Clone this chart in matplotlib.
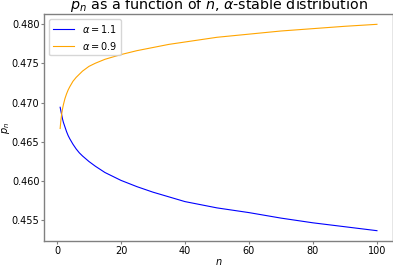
import matplotlib
matplotlib.use("Agg")
import matplotlib.pyplot as plt

n_blue = [1, 1.25, 1.5, 1.75, 2, 2.5, 3, 3.5, 4, 5, 6, 7, 8, 10, 12, 15, 20, 25, 30,
          35, 40, 50, 60, 70, 80, 90, 100]
p_blue = [0.4694, 0.4689, 0.4684, 0.4679, 0.4675, 0.4669, 0.4663, 0.4658, 0.4654,
          0.4647, 0.4641, 0.4636, 0.4632, 0.4625, 0.4619, 0.4611, 0.4601, 0.4593,
          0.4586, 0.4580, 0.4574, 0.4566, 0.4560, 0.4553, 0.4547, 0.4542, 0.4537]
n_orange = [1, 1.25, 1.5, 1.75, 2, 2.5, 3, 3.5, 4, 5, 6, 7, 8, 10, 12, 15, 20, 25, 30,
            35, 40, 50, 60, 70, 80, 90, 100]
p_orange = [0.4667, 0.4678, 0.4686, 0.4692, 0.4697, 0.4705, 0.4711, 0.4716, 0.4720,
            0.4727, 0.4732, 0.4736, 0.4740, 0.4746, 0.4750, 0.4755, 0.4761, 0.4766,
            0.4770, 0.4774, 0.4777, 0.4783, 0.4787, 0.4791, 0.4794, 0.4797, 0.47995]
labels = [r"$\alpha = 1.1$", r"$\alpha = 0.9$"]
title = r"$p_n$ as a function of $n$, $\alpha$-stable distribution"

fig = plt.figure(figsize=(3.93, 2.66), dpi=100)
ax = fig.add_axes([44.3 / 393, 1 - 241 / 266, (392.8 - 44.3) / 393, (241 - 14) / 266])
ax.plot(n_blue, p_blue, color="blue", lw=0.8, label=labels[0])
ax.plot(n_orange, p_orange, color="orange", lw=0.8, label=labels[1])
ax.set_xticks([0, 20, 40, 60, 80, 100])
ax.set_yticks([0.455, 0.460, 0.465, 0.470, 0.475, 0.480])
ax.tick_params(labelsize=7, length=2.5, width=0.8, color="#808080", pad=1)
for s in ax.spines.values():
    s.set_color("#808080")
    s.set_linewidth(1.0)
ax.set_title(title, fontsize=10.3, pad=0)
ax.set_xlabel(r"$n$", fontsize=7, labelpad=0.5)
ax.set_ylabel(r"$p_n$", fontsize=7, labelpad=0)
ax.legend(loc="upper left", fontsize=7, handlelength=2.2, borderaxespad=0.5)
fig.savefig("out.png", dpi=100)
